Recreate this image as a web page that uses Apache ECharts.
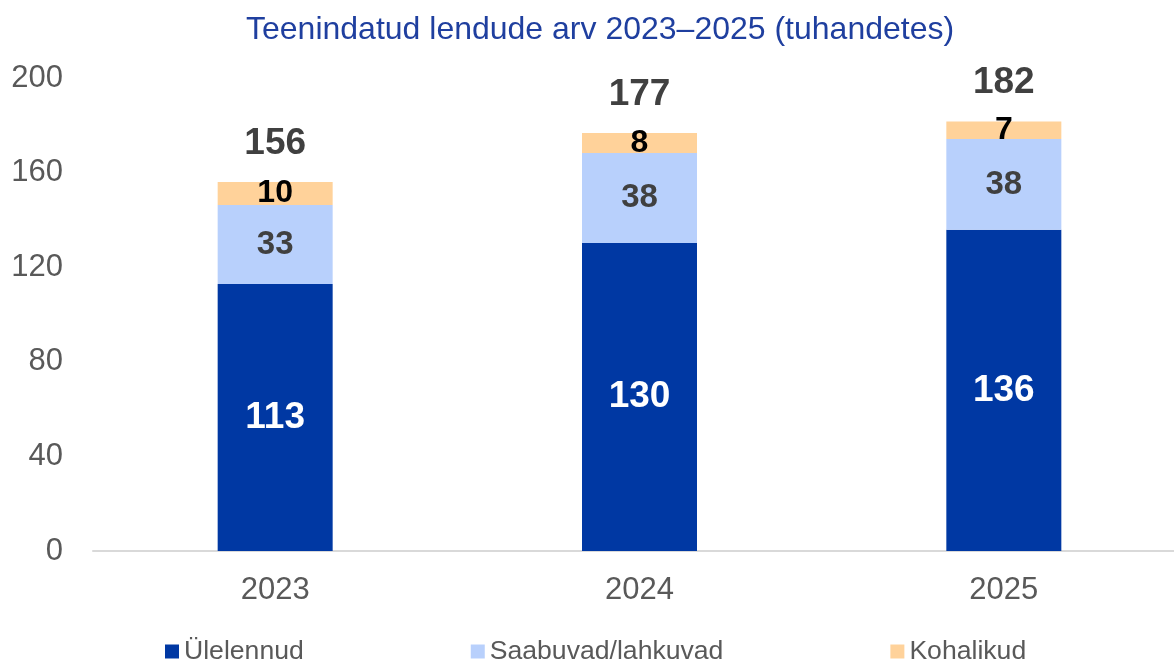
<!DOCTYPE html>
<html>
<head>
<meta charset="utf-8">
<script src="https://cdn.jsdelivr.net/npm/echarts@6/dist/echarts.min.js"></script>
<style>
  html, body { margin: 0; padding: 0; background: #fff; }
  #chart { width: 1174px; height: 663px; }
</style>
</head>
<body>
<div id="chart"></div>
<script>
// andmed (tuhandetes)
const years = ['2023', '2024', '2025']
const ulelennud = [112.9, 130.2, 135.8]
const saabuvad = [33.4, 38.1, 38.4]
const kohalikud = [9.7, 8.4, 7.4]
const seriesNames = ['Ülelennud', 'Saabuvad/lahkuvad', 'Kohalikud']
const yTicks = [0, 40, 80, 120, 160, 200]

const totals = years.map((y, i) => ulelennud[i] + saabuvad[i] + kohalikud[i])
const font = 'Liberation Sans, Arial, sans-serif'

const chart = echarts.init(document.getElementById('chart'))
chart.setOption({
  animation: false,
  textStyle: { fontFamily: font },
  title: {
    text: 'Teenindatud lendude arv 2023–2025 (tuhandetes)',
    left: 241,
    top: 9,
    textStyle: { color: '#1f3f9f', fontSize: 32, fontWeight: 'normal', fontFamily: font }
  },
  legend: {
    data: seriesNames,
    left: 160,
    top: 633,
    itemWidth: 14,
    itemHeight: 14,
    itemGap: 167,
    icon: 'rect',
    textStyle: { color: '#595959', fontSize: 26.6, fontFamily: font }
  },
  grid: { left: 93, top: 78, width: 1093, bottom: 112, outerBoundsMode: 'none', containLabel: false },
  xAxis: {
    type: 'category',
    data: years,
    axisTick: { show: false },
    axisLine: { lineStyle: { color: '#d9d9d9', width: 2 } },
    axisLabel: { color: '#595959', fontSize: 31, margin: 24, fontFamily: font }
  },
  yAxis: {
    type: 'value',
    min: yTicks[0],
    max: yTicks[yTicks.length - 1],
    interval: 40,
    splitLine: { show: false },
    axisLine: { show: false },
    axisTick: { show: false },
    axisLabel: { color: '#595959', fontSize: 31, margin: 30, fontFamily: font }
  },
  series: [
    {
      name: seriesNames[0], type: 'bar', stack: 'kokku', barWidth: 115,
      data: ulelennud,
      itemStyle: { color: '#0038a3' },
      label: { show: true, position: 'inside', color: '#fff', fontSize: 37, fontWeight: 'bold',
        formatter: p => Math.round(p.value) }
    },
    {
      name: seriesNames[1], type: 'bar', stack: 'kokku',
      data: saabuvad,
      itemStyle: { color: '#b8d0fc' },
      label: { show: true, position: 'inside', color: '#404040', fontSize: 33, fontWeight: 'bold',
        formatter: p => Math.round(p.value) }
    },
    {
      name: seriesNames[2], type: 'bar', stack: 'kokku',
      data: kohalikud,
      itemStyle: { color: '#ffd29a' },
      label: { show: true, position: 'inside', color: '#000', fontSize: 32, fontWeight: 'bold',
        formatter: p => Math.round(p.value) }
    },
    {
      // kogusumma silt
      name: 'kokku', type: 'bar', stack: 'kokku',
      data: years.map(() => 0),
      itemStyle: { color: 'transparent' },
      label: { show: true, position: 'top', distance: 20, color: '#404040', fontSize: 37, fontWeight: 'bold',
        formatter: p => Math.round(totals[p.dataIndex]) }
    }
  ]
})
</script>
</body>
</html>
